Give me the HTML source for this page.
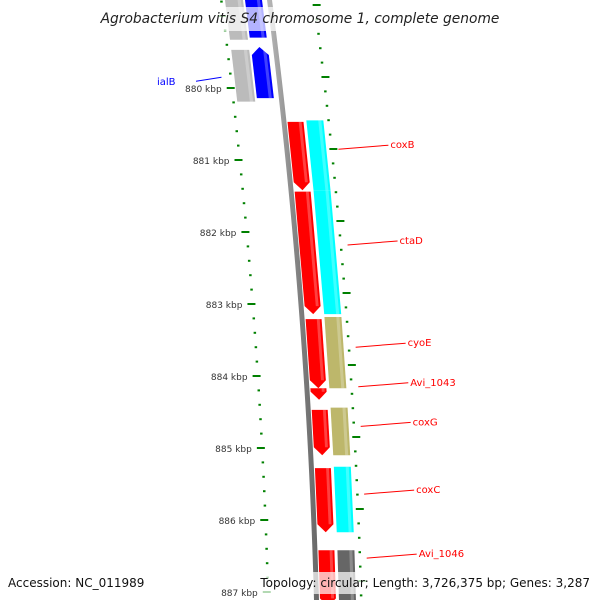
<!DOCTYPE html>
<html><head><meta charset="utf-8"><style>
body{margin:0;background:#fff}
svg{display:block}
text{font-family:"DejaVu Sans","Liberation Sans",sans-serif}
</style></head><body>
<svg id="map" width="600" height="600" viewBox="0 0 600 600">
<defs>
<linearGradient id="gBack" x1="0" x2="1"><stop offset="0" stop-color="#bbb"/><stop offset="0.5" stop-color="#888"/><stop offset="1" stop-color="#666"/></linearGradient>
</defs>
<g id="layer"></g>
</svg>
<script>
// data (kbp)
const kbpTicks = [880,881,882,883,884,885,886,887];
const revGenes = [ // red ring, arrows pointing down
 {s:880.47,e:881.42},{s:881.44,e:883.14},{s:883.21,e:884.17},{s:884.17,e:884.33},
 {s:884.47,e:885.10},{s:885.28,e:886.17},{s:886.42,e:887.20}];
const cogGenes = [ // outer color ring
 {s:880.45,e:881.42,c:"#00ffff"},{s:881.42,e:883.14,c:"#00ffff"},
 {s:883.18,e:884.17,c:"#bdb76b"},{s:884.44,e:885.10,c:"#bdb76b"},
 {s:885.26,e:886.17,c:"#00ffff"},{s:886.42,e:887.20,c:"#666666"}];
const fwdGenes = [{s:878.60,e:879.30},{s:879.43,e:880.14}]; // blue, pointing up
const fwdCog = [{s:878.60,e:879.33},{s:879.47,e:880.19}];
const labels = ["ialB","coxB","ctaD","cyoE","Avi_1043","coxG","coxC","Avi_1046"];
const labelKbp = [879.85,880.85,882.18,883.60,884.15,884.70,885.64,886.53];

const NS="http://www.w3.org/2000/svg";
const L=document.getElementById('layer');
function Y(k){return 88+(k-880)*72;}
function bb(y){return 269+0.1292*y-0.0000848*y*y;}
function X(y,d){return bb(y)+d;}
function el(t,a,p){const e=document.createElementNS(NS,t);for(const k in a)e.setAttribute(k,a[k]);(p||L).appendChild(e);return e;}

let pts=[];for(let y=-5;y<=605;y+=5)pts.push(X(y,-2)+","+y);
let pts2=[];for(let y=605;y>=-5;y-=5)pts2.push(X(y,3)+","+y);
const back=el('polygon',{points:pts.concat(pts2).join(' '),fill:'url(#gBack)'});



function gene(s,e,d0,d1,fill,dir,name){
 const y0=Y(s),y1=Y(e),h=8,dm=(d0+d1)/2;let p;
 if(dir==='down'){const yb=Math.max(y0,y1-h);
  p=[[X(y0,d0),y0],[X(y0,d1),y0],[X(yb,d1),yb],[X(y1,dm),y1],[X(yb,d0),yb]];}
 else if(dir==='up'){const yt=Math.min(y1,y0+h);
  p=[[X(y0,dm),y0],[X(yt,d1),yt],[X(y1,d1),y1],[X(y1,d0),y1],[X(yt,d0),yt]];}
 else p=[[X(y0,d0),y0],[X(y0,d1),y0],[X(y1,d1),y1],[X(y1,d0),y1]];
 const g=el('polygon',{points:p.map(q=>q.join(',')).join(' '),fill:fill});
 
 
 const w=(d1-d0)*0.3;
 const ye=y1-(dir==='down'?h:0);
 const hl=el('polygon',{points:[[X(y0,d1-w),y0],[X(y0,d1-w*0.4),y0],[X(ye,d1-w*0.4),ye],[X(ye,d1-w),ye]].map(q=>q.join(',')).join(' '),fill:'#fff',opacity:0.25});
 
 
}
revGenes.forEach(g=>gene(g.s,g.e,4,20,'#ff0000','down','reverse-gene'));
cogGenes.forEach(g=>gene(g.s,g.e,23,40,g.c,'none','cog-feature'));
fwdGenes.forEach(g=>gene(g.s,g.e,-24,-7,'#0000ff','up','forward-gene'));
fwdCog.forEach(g=>gene(g.s,g.e,-44,-26,'#bbbbbb','none','forward-cog-feature'));

for(let k=878.6;k<=887.3;k+=0.2){
 const y=Y(k),major=Math.abs(k-Math.round(k))<0.01;
 const t=el('line',{x1:X(y,major?-53:-49),y1:y,x2:X(y,major?-45:-46.5),y2:y,stroke:'#008000','stroke-width':2});
 
 
 const yr=y-11;
 const t2=el('line',{x1:X(yr,major?43:44),y1:yr,x2:X(yr,major?51:46.5),y2:yr,stroke:'#008000','stroke-width':2});
 
 
}
kbpTicks.forEach(k=>{
 const y=Y(k);
 const t=el('text',{x:X(y,-58),y:y+4,'font-size':9,'text-anchor':'end',fill:'#333'});
 t.textContent=k+' kbp';
 
 
});
labels.forEach((n,i)=>{
 const y=Y(labelKbp[i]);
 if(n==='ialB'){
  const ln=el('line',{x1:X(y,-57),y1:y,x2:196,y2:y+4,stroke:'#0000ff','stroke-width':1});
  
  
  const t=el('text',{x:157,y:y+8,'font-size':10,fill:'#0000ff'});t.textContent=n;
  
  
 } else {
  const x0=X(y,52),x1=x0+50;
  const ln=el('line',{x1:x0,y1:y,x2:x1,y2:y-4,stroke:'#ff0000','stroke-width':1});
  
  
  const t=el('text',{x:x1+2,y:y-1,'font-size':10,fill:'#ff0000'});t.textContent=n;
  
  
 }
});
const tb=el('rect',{x:92,y:7,width:416,height:24,fill:'#fff',opacity:0.7});


const tt=el('text',{x:300,y:23,'font-size':13.8,'text-anchor':'middle','font-style':'italic',fill:'#222'});
tt.textContent='Agrobacterium vitis S4 chromosome 1, complete genome';


const fb=el('rect',{x:258,y:572,width:336,height:22,fill:'#fff',opacity:0.7});


const fa=el('text',{x:8,y:587,'font-size':12,fill:'#111'});fa.textContent='Accession: NC_011989';


const ft=el('text',{x:590,y:587,'font-size':12,'text-anchor':'end',fill:'#111'});ft.textContent='Topology: circular; Length: 3,726,375 bp; Genes: 3,287';


</script>
</body></html>
